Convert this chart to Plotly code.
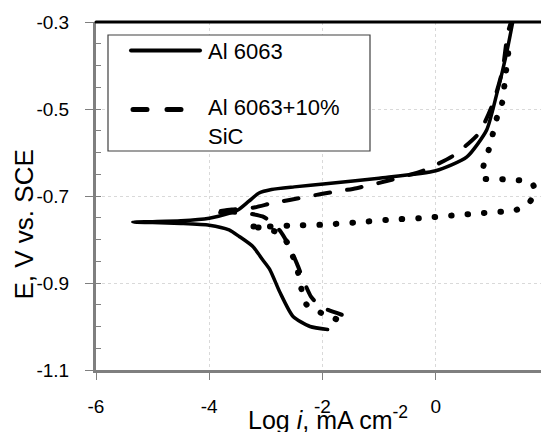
import plotly.graph_objects as go

# ---------------- data ----------------
# Al 6063 (solid line): cathodic end -> Ecorr tip -> anodic end
al_logi = [-1.91, -2.22, -2.52, -2.75, -2.93, -3.06, -3.23, -3.47, -3.65, -4.0, -4.5, -5.0, -5.35,
           -5.0, -4.5, -4.0, -3.65, -3.48, -3.3, -3.12, -2.9, -2.5, -1.94, -1.0, 0.0, 0.55, 0.90,
           1.08, 1.25, 1.36]
al_E = [-1.007, -1.0, -0.977, -0.922, -0.869, -0.846, -0.816, -0.793, -0.778, -0.767, -0.763, -0.761, -0.760,
        -0.759, -0.757, -0.751, -0.740, -0.731, -0.712, -0.693, -0.685, -0.679, -0.672, -0.659, -0.642, -0.610, -0.548,
        -0.464, -0.372, -0.30]

# Al 6063+10% SiC (dashed line)
sic_logi = [-1.66, -1.90, -2.05, -2.20, -2.30, -2.45, -2.60, -2.75, -2.90, -3.06, -3.32, -3.60, -3.95,
            -3.60, -3.23, -2.88, -2.58, -2.0, -1.4, -0.85, -0.23, 0.30, 0.76, 1.01, 1.18, 1.27, 1.33]
sic_E = [-0.973, -0.962, -0.953, -0.932, -0.905, -0.856, -0.812, -0.780, -0.760, -0.747, -0.740, -0.738, -0.738,
         -0.731, -0.727, -0.716, -0.709, -0.695, -0.682, -0.665, -0.642, -0.608, -0.556, -0.487, -0.410, -0.326, -0.30]

# third curve (dotted line, not in legend)
dot_logi = [-1.76, -2.02, -2.28, -2.37, -2.43, -2.52, -2.62, -2.78, -3.03, -3.32,
            -3.10, -2.88, -2.59, -2.0, -1.43, -0.87, -0.29, 0.28, 0.85, 1.42, 1.65, 1.76, 1.69,
            1.39, 1.11, 0.82, 0.85, 0.94, 1.01, 1.08, 1.17, 1.24, 1.30]
dot_E = [-0.983, -0.969, -0.950, -0.915, -0.877, -0.840, -0.808, -0.785, -0.774, -0.770,
         -0.770, -0.770, -0.768, -0.766, -0.761, -0.755, -0.751, -0.745, -0.739, -0.732, -0.715, -0.690, -0.669,
         -0.663, -0.661, -0.659, -0.627, -0.592, -0.556, -0.520, -0.487, -0.414, -0.35]

x_ticks = [-6, -4, -2, 0, 2]
x_ticklabels = ["-6", "-4", "-2", "0", "2"]
y_ticks = [-1.1, -0.9, -0.7, -0.5, -0.3]
y_ticklabels = ["-1.1", "-0.9", "-0.7", "-0.5", "-0.3"]

legend_names = ["Al 6063", "Al 6063+10%<br>SiC"]
x_title = "Log <i>i</i>, mA cm<sup>-2</sup>"
y_title = "E, V vs. SCE"

# ---------------- layout geometry ----------------
W, H = 549, 432
OFF = 8                      # page body margin
L, T = 96 - OFF, 22 - OFF    # plot area left/top (figure px)
PR, PB = 549 - OFF, 370 - OFF  # plot area right/bottom (figure px)
R, B = W - PR, H - PB
PW, PH = PR - L, PB - T
FONT = "Liberation Sans, Arial, sans-serif"


def px(xp):
    """page x pixel -> paper fraction"""
    return (xp - OFF - L) / PW


def py(yp):
    """page y pixel -> paper fraction"""
    return (PB - (yp - OFF)) / PH


fig = go.Figure()
fig.add_trace(go.Scatter(x=dot_logi, y=dot_E, mode="lines", name="dotted", showlegend=False,
                         line=dict(color="black", width=6, dash="0.5px,16px", shape="spline", smoothing=0.6)))
fig.add_trace(go.Scatter(x=sic_logi, y=sic_E, mode="lines", name="Al 6063+10% SiC", showlegend=False,
                         line=dict(color="black", width=4, dash="15px,17px", shape="spline", smoothing=0.6)))
fig.add_trace(go.Scatter(x=al_logi, y=al_E, mode="lines", name="Al 6063", showlegend=False,
                         line=dict(color="black", width=3.5, shape="spline", smoothing=0.6)))

axis_common = dict(showline=True, linecolor="#7f7f7f", linewidth=3, showgrid=True,
                   gridcolor="#d9d9d9", griddash="dot", gridwidth=1, zeroline=False,
                   ticks="outside", tickcolor="#7f7f7f", tickwidth=1, ticklabeloverflow="allow",
                   tickfont=dict(family=FONT, size=19, color="black"))

fig.update_layout(
    width=W, height=H, margin=dict(l=L, r=R, t=T, b=B, autoexpand=False),
    paper_bgcolor="white", plot_bgcolor="white", showlegend=False,
    xaxis=dict(range=[-6, 2], tickmode="array", tickvals=x_ticks, ticktext=x_ticklabels,
               ticklen=7, ticklabelstandoff=10, **axis_common),
    yaxis=dict(range=[-1.1, -0.3], tickmode="array", tickvals=y_ticks, ticktext=y_ticklabels,
               ticklen=8, ticklabelstandoff=12,
               minor=dict(tickmode="linear", tick0=-1.1, dtick=0.05, ticks="inside", ticklen=5,
                          tickcolor="#7f7f7f", showgrid=False),
               **axis_common),
)

shapes = [
    # black frame on top and right
    dict(type="line", xref="paper", yref="paper", x0=0, x1=1, y0=1, y1=1, line=dict(color="black", width=3)),
    dict(type="line", xref="paper", yref="paper", x0=1, x1=1, y0=0, y1=1, line=dict(color="black", width=2.5)),
    # legend box
    dict(type="rect", xref="paper", yref="paper", x0=px(108), x1=px(370), y0=py(151), y1=py(35),
         line=dict(color="#404040", width=1.2), fillcolor="white"),
    dict(type="line", xref="paper", yref="paper", x0=px(131), x1=px(200), y0=py(50.5), y1=py(50.5),
         line=dict(color="black", width=4)),
    dict(type="line", xref="paper", yref="paper", x0=px(133), x1=px(200), y0=py(109.5), y1=py(109.5),
         line=dict(color="black", width=5, dash="14px,20px")),
]
fig.update_layout(shapes=shapes)

ann = [
    dict(text=legend_names[0], x=px(206), y=py(51.5), xanchor="left", yanchor="middle"),
    dict(text=legend_names[1], x=px(206), y=py(122), xanchor="left", yanchor="middle", align="left"),
]
for a in ann:
    a.update(xref="paper", yref="paper", showarrow=False, font=dict(family=FONT, size=22, color="black"))
    fig.add_annotation(**a)

fig.add_annotation(text=x_title, xref="paper", yref="paper", x=px(328), y=py(418), xanchor="center",
                   yanchor="middle", showarrow=False, font=dict(family=FONT, size=25, color="black"))
fig.add_annotation(text=y_title, xref="paper", yref="paper", x=px(23.5), y=py(225), xanchor="center",
                   yanchor="middle", textangle=-90, showarrow=False,
                   font=dict(family=FONT, size=26, color="black"))

post = """
var gd = document.getElementById('{plot_id}');
function rc(){
  gd.querySelectorAll('.scatterlayer .js-line, .shapelayer path').forEach(function(p){
    p.style.strokeLinecap = 'round';
  });
}
rc();
if (gd.on) { gd.on('plotly_afterplot', rc); }
"""

fig.write_html("out.html", post_script=post)
